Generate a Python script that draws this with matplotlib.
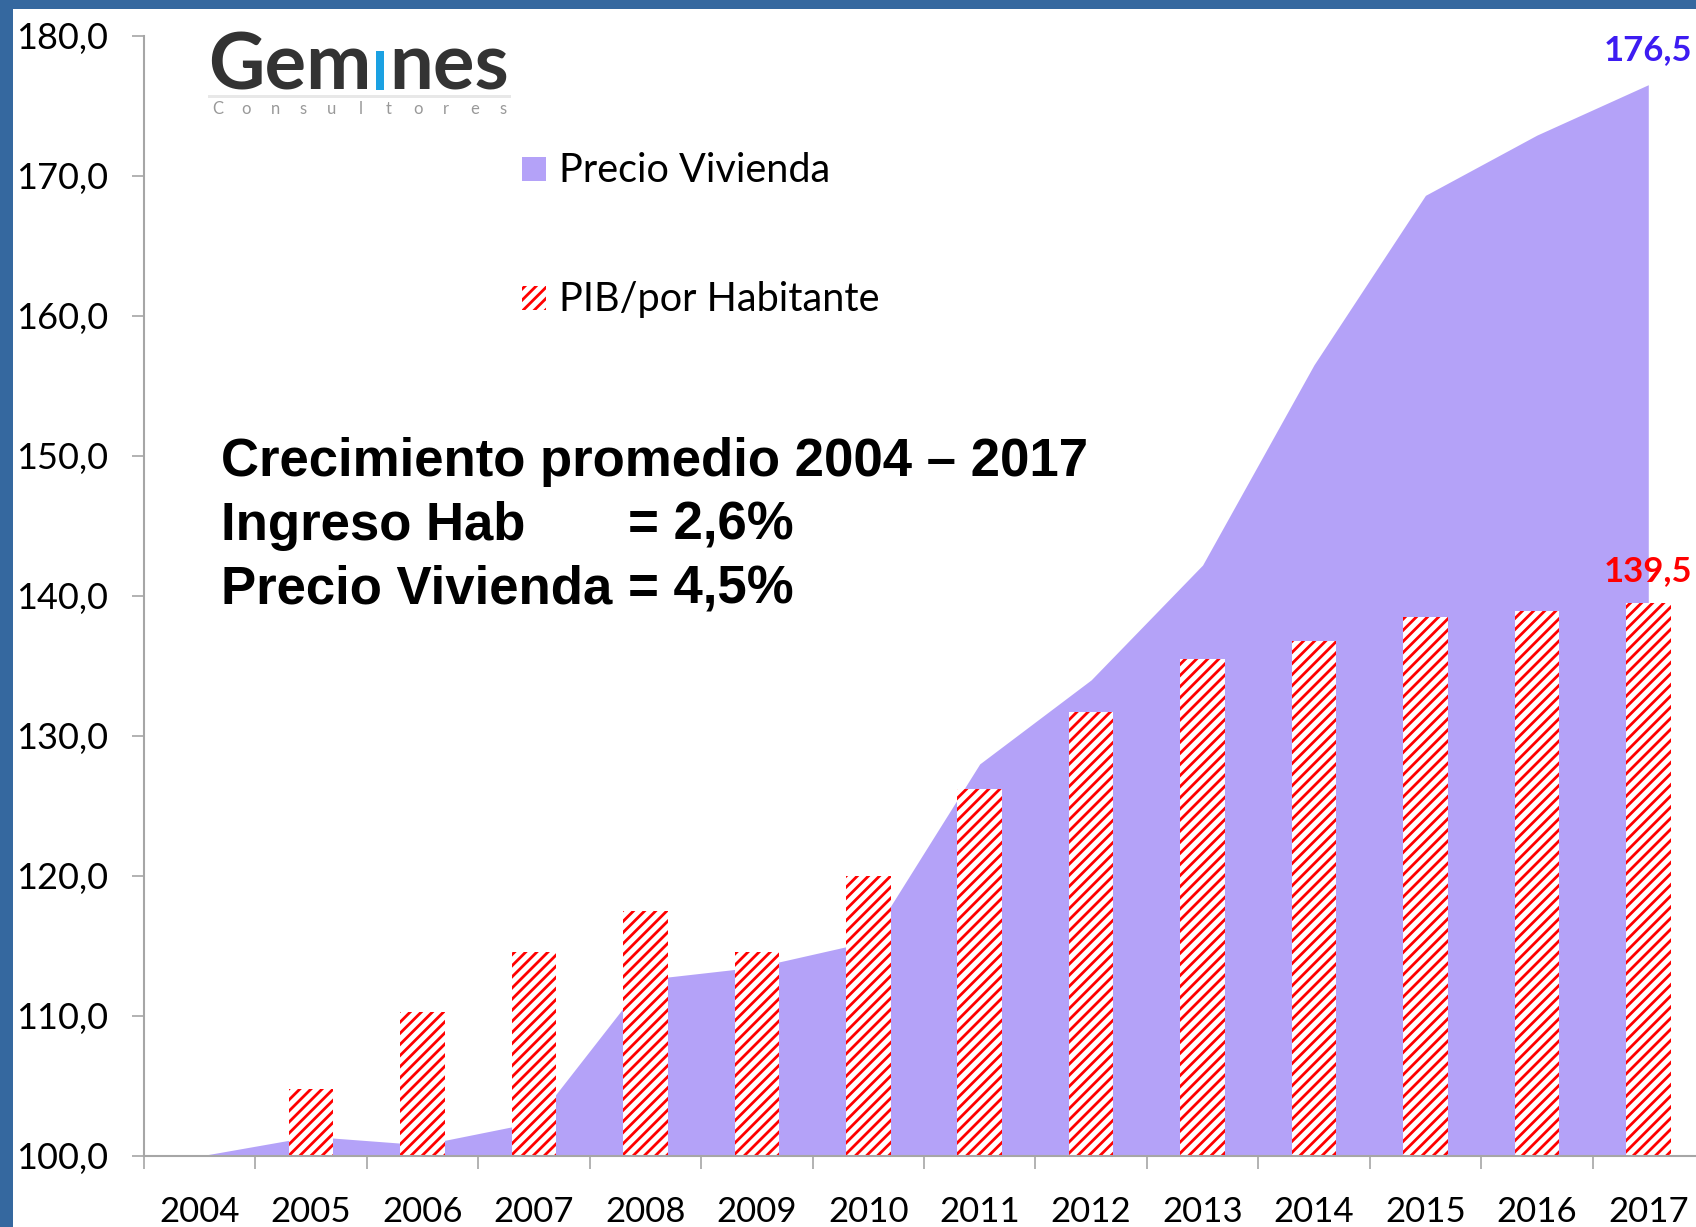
import matplotlib
matplotlib.use('Agg')
import matplotlib.pyplot as plt
from matplotlib.patches import Rectangle
import numpy as np

# ---------------- data ----------------
years = ['2004', '2005', '2006', '2007', '2008', '2009', '2010',
         '2011', '2012', '2013', '2014', '2015', '2016', '2017']
precio_vivienda = [100.0, 101.4, 100.8, 102.4, 112.6, 113.5, 115.3,
                   128.0, 134.0, 142.2, 156.5, 168.6, 172.9, 176.5]
pib_habitante = [100.0, 104.8, 110.3, 114.6, 117.5, 114.6, 120.0,
                 126.2, 131.7, 135.5, 136.8, 138.5, 138.9, 139.5]
y_ticks = [100, 110, 120, 130, 140, 150, 160, 170, 180]
legend_labels = ['Precio Vivienda', 'PIB/por Habitante']
summary_title = 'Crecimiento promedio 2004 \u2013 2017'
summary_rows = [('Ingreso Hab', '= 2,6%'), ('Precio Vivienda', '= 4,5%')]
end_labels = ['176,5', '139,5']

# ---------------- style ----------------
W, H = 1696, 1227
AREA = '#B4A2F8'
RED = '#FF0000'
BLUE_LBL = '#3D1CF2'
BORDER = '#35689F'
GRAY = '#A6A6A6'
plt.rcParams['hatch.linewidth'] = 2.0
plt.rcParams['font.family'] = ['Lato', 'DejaVu Sans']

fig = plt.figure(figsize=(W / 100, H / 100), dpi=100)
fig.patch.set_facecolor('white')

def fx(px):
    return px / W

def fy(py):
    return 1 - py / H

# page border (top and left)
fig.add_artist(Rectangle((0, fy(9)), 1, 9 / H, transform=fig.transFigure,
                         color=BORDER, lw=0, zorder=0))
fig.add_artist(Rectangle((0, 0), 13 / W, 1, transform=fig.transFigure,
                         color=BORDER, lw=0, zorder=0))

ax_left, ax_right, ax_top, ax_bot = 144, 1704, 35.7, 1156
ax = fig.add_axes([fx(ax_left), fy(ax_bot), (ax_right - ax_left) / W,
                   (ax_bot - ax_top) / H])
ax.set_facecolor('none')

x = np.arange(len(years))
ax.fill_between(x, 100, precio_vivienda, color=AREA, lw=0, zorder=1)
ax.bar(x, pib_habitante, width=0.40, color='white', edgecolor=RED,
       linewidth=0, hatch='///', zorder=2)

ax.set_xlim(-0.5, len(years) - 0.5)
ax.set_ylim(100, 180)

for s in ['top', 'right']:
    ax.spines[s].set_visible(False)
for s in ['left', 'bottom']:
    ax.spines[s].set_color(GRAY)
    ax.spines[s].set_linewidth(1.5)
    ax.spines[s].set_zorder(3)

ax.set_yticks(y_ticks)
ax.set_yticklabels([f'{v:.1f}'.replace('.', ',') for v in y_ticks])
ax.tick_params(axis='y', direction='out', length=9, width=1.2, color=GRAY,
               pad=17, labelsize=26, labelcolor='black')

ax.set_xticks(x)
ax.set_xticklabels(years)
ax.set_xticks(np.arange(-0.5, len(years), 1.0), minor=True)
ax.tick_params(axis='x', which='major', length=0, pad=28.5, labelsize=25,
               labelcolor='black')
ax.tick_params(axis='x', which='minor', direction='out', length=9.5, width=1.2,
               color=GRAY)

# end value labels
ax.text(x[-1], precio_vivienda[-1] + 2.5, end_labels[0], ha='center',
        va='center', fontsize=25, fontweight='bold', color=BLUE_LBL, zorder=5)
ax.text(x[-1], pib_habitante[-1] + 2.3, end_labels[1], ha='center',
        va='center', fontsize=25, fontweight='bold', color=RED, zorder=5)

# legend (manual)
fig.add_artist(Rectangle((fx(522), fy(181)), 24 / W, 24 / H,
                         transform=fig.transFigure, facecolor=AREA, lw=0))
fig.add_artist(Rectangle((fx(522), fy(310)), 24 / W, 24 / H,
                         transform=fig.transFigure, facecolor='white',
                         edgecolor=RED, lw=0, hatch='///'))
fig.text(fx(559), fy(182), legend_labels[0], fontsize=28.5, va='baseline',
         ha='left', color='black')
fig.text(fx(559), fy(311), legend_labels[1], fontsize=28.5, va='baseline',
         ha='left', color='black')

# summary text
big = dict(fontsize=38, fontweight='bold', family=['Liberation Sans', 'DejaVu Sans'],
           color='black', va='baseline', ha='left')
fig.text(fx(221), fy(476), summary_title, **big)
fig.text(fx(221), fy(540), summary_rows[0][0], **big)
fig.text(fx(628), fy(540), summary_rows[0][1], **big)
fig.text(fx(221), fy(603), summary_rows[1][0], **big)
fig.text(fx(628), fy(603), summary_rows[1][1], **big)

# logo
renderer = fig.canvas.get_renderer()
logo_kw = dict(fontsize=56, fontweight='bold', color='#333333', va='baseline',
               ha='left')
t1 = fig.text(fx(208), fy(90), 'Gem', **logo_kw)
bb = t1.get_window_extent(renderer)
stem_x = bb.x1 + 5
fig.add_artist(Rectangle((stem_x / W, fy(90)), 8 / W, 39 / H,
                         transform=fig.transFigure, color='#1BA1E2', lw=0))
fig.text((stem_x + 13) / W, fy(90), 'nes', **logo_kw)
fig.add_artist(Rectangle((fx(208), fy(97.5)), 303 / W, 2.5 / H,
                         transform=fig.transFigure, color='#E8E8E8', lw=0))
for cx, ch in zip(np.linspace(218, 503, 11), 'Consultores'):
    fig.text(fx(cx), fy(109), ch, fontsize=12, color='#999999',
             ha='center', va='center')

fig.savefig('out.png', dpi=100, facecolor='white')
